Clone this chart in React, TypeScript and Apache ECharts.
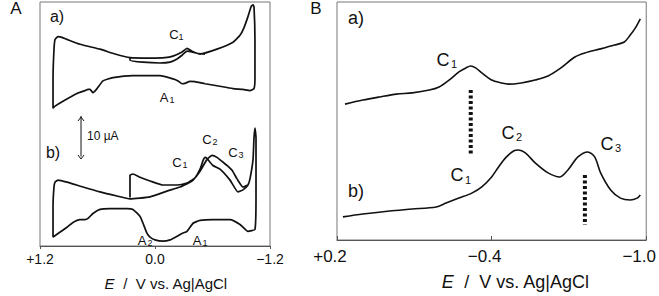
import React, { useEffect, useRef } from "react";
import * as echarts from "echarts";

// Panel A (cyclic voltammograms): x = E / V, y = current / µA
const AX_TICKS = [1.2, 0, -1.2];
const BX_TICKS = [0.2, -0.4, -1.0];

const cvA_a: number[][] = [
  [0.261, 46.5], [0.261, 45.7], [0.125, 45.2], [-0.052, 45.0], [-0.157, 45.2], [-0.23, 46.0],
  [-0.282, 46.9], [-0.334, 47.9], [-0.386, 47.7], [-0.438, 47.4], [-0.47, 47.2], [-0.647, 48.4],
  [-0.814, 50.1], [-0.887, 51.8], [-0.929, 53.7], [-0.97, 56.4], [-1.002, 58.8], [-1.023, 59.3],
  [-1.033, 58.8], [-1.043, 50.8], [-1.043, 41.1], [-1.033, 38.7], [-0.991, 38.2], [-0.918, 38.5],
  [-0.814, 38.7], [-0.647, 39.4], [-0.522, 39.9], [-0.417, 40.4], [-0.365, 40.5], [-0.313, 40.0],
  [-0.282, 39.9], [-0.24, 40.6], [-0.188, 41.1], [-0.052, 41.9], [0.23, 41.9], [0.438, 41.4],
  [0.543, 40.6], [0.605, 38.7], [0.647, 37.7], [0.678, 38.5], [0.699, 38.5], [0.73, 38.2],
  [0.814, 37.5], [0.96, 35.6], [1.043, 34.4], [1.064, 33.9], [1.064, 41.1], [1.054, 48.4],
  [1.043, 50.8], [1.012, 51.5], [0.97, 51.3], [0.918, 50.8], [0.783, 49.6], [0.574, 48.4],
  [0.417, 47.2], [0.261, 46.3], [0.052, 46.2], [-0.104, 46.3], [-0.188, 46.7], [-0.282, 47.7],
  [-0.334, 48.6], [-0.386, 47.9], [-0.438, 47.4], [-0.522, 47.2],
];

const cvA_b: number[][] = [
  [0.261, 11.9], [0.261, 17.4], [0.23, 17.7], [0.157, 16.9], [0.052, 16.0], [-0.083, 15.0],
  [-0.23, 15.0], [-0.334, 15.5], [-0.386, 16.2], [-0.417, 16.7], [-0.47, 18.9], [-0.501, 21.0],
  [-0.522, 21.8], [-0.543, 21.5], [-0.605, 19.8], [-0.678, 18.9], [-0.783, 16.2], [-0.866, 13.3],
  [-0.918, 13.8], [-0.97, 15.0], [-0.991, 16.5], [-1.023, 21.3], [-1.033, 26.6], [-1.043, 29.0],
  [-1.054, 26.6], [-1.054, 12.1], [-1.043, 4.1], [-0.97, 3.6], [-0.887, 5.3], [-0.783, 6.5],
  [-0.605, 6.5], [-0.47, 6.3], [-0.397, 5.6], [-0.334, 3.6], [-0.282, 3.1], [-0.23, 2.4],
  [-0.157, 1.5], [-0.083, 1.2], [0.0, 1.5], [0.052, 2.2], [0.083, 3.1], [0.125, 5.6],
  [0.157, 7.3], [0.23, 9.0], [0.292, 9.2], [0.47, 9.2], [0.574, 9.0], [0.647, 8.0],
  [0.699, 6.8], [0.73, 6.5], [0.783, 6.5], [0.856, 5.8], [0.918, 4.6], [1.023, 2.9],
  [1.064, 2.2], [1.064, 9.7], [1.054, 14.5], [1.043, 15.7], [1.012, 16.2], [0.918, 15.7],
  [0.751, 14.5], [0.574, 13.3], [0.397, 12.3], [0.261, 11.6], [0.052, 12.1], [-0.125, 13.5],
  [-0.261, 14.5], [-0.365, 15.7], [-0.397, 16.2], [-0.47, 18.4], [-0.543, 21.3], [-0.595, 22.3],
  [-0.647, 21.8], [-0.71, 20.6], [-0.751, 19.8], [-0.804, 18.6], [-0.856, 16.5], [-0.918, 14.5],
  [-0.97, 15.0],
];

// 10 µA scale bar (in panel A units)
const scaleBar: number[][] = [[0.772, 22.0], [0.772, 32.0]];

// Panel B (differential pulse voltammograms): x = E / V, y = arbitrary current
const dpvB_a: number[][] = [
  [0.169, 57.1], [0.1, 58.8], [0.035, 60.1], [-0.031, 61.3], [-0.092, 61.8], [-0.158, 63.0],
  [-0.196, 64.3], [-0.235, 67.2], [-0.273, 70.6], [-0.3, 72.3], [-0.319, 73.1], [-0.338, 72.3],
  [-0.362, 70.2], [-0.4, 67.2], [-0.438, 66.0], [-0.465, 65.5], [-0.515, 66.0], [-0.569, 67.2],
  [-0.619, 68.9], [-0.669, 72.3], [-0.723, 76.9], [-0.762, 78.6], [-0.823, 80.3], [-0.877, 81.9],
  [-0.915, 83.2], [-0.938, 86.1], [-0.958, 89.1], [-0.977, 92.9],
];

const dpvB_b: number[][] = [
  [0.177, 9.7], [0.1, 10.9], [-0.004, 12.2], [-0.092, 13.0], [-0.185, 13.9], [-0.223, 15.5],
  [-0.273, 17.6], [-0.323, 19.7], [-0.362, 22.3], [-0.4, 26.5], [-0.427, 30.7], [-0.454, 34.5],
  [-0.485, 37.4], [-0.504, 37.8], [-0.531, 36.6], [-0.569, 32.4], [-0.619, 28.2], [-0.665, 26.5],
  [-0.696, 29.4], [-0.735, 34.9], [-0.773, 37.0], [-0.8, 34.9], [-0.823, 28.2], [-0.862, 21.0],
  [-0.9, 17.6], [-0.938, 16.8], [-0.965, 17.6], [-0.977, 18.9],
];

const markerB_a: number[][] = [[-0.319, 63.0], [-0.319, 35.7]];
const markerB_b: number[][] = [[-0.762, 27.3], [-0.762, 6.3]];

const FONT = "Liberation Sans";
const INK = "#111";

const fmt = (v: number) =>
  v > 0 ? "+" + v.toFixed(1) : v < 0 ? "\u2212" + Math.abs(v).toFixed(1) : v.toFixed(1);

function txt(x: number, y: number, text: string, size: number, align = "center") {
  return {
    type: "text",
    x,
    y,
    style: { text, fontSize: size, fontFamily: FONT, fill: INK, align, verticalAlign: "middle" },
  };
}

function label(x: number, y: number, main: string, sub: string, size: number, subSize: number, sx: number, sy: number) {
  return [txt(x, y, main, size), txt(x + sx, y + sy, sub, subSize)];
}

export default function App() {
  const ref = useRef<HTMLDivElement>(null);
  useEffect(() => {
    document.body.style.margin = "0";
    const chart = echarts.init(ref.current!, null, { renderer: "svg" });
    const lineSeries = (data: number[][], idx: number, width = 1.6, smooth = 0.2) => ({
      type: "line",
      data,
      xAxisIndex: idx,
      yAxisIndex: idx,
      showSymbol: false,
      symbol: "none",
      smooth,
      clip: false,
      lineStyle: { color: INK, width },
      silent: true,
    });
    const marker = (data: number[][]) => ({
      type: "line",
      data,
      xAxisIndex: 1,
      yAxisIndex: 1,
      showSymbol: false,
      symbol: "none",
      clip: false,
      lineStyle: { color: INK, width: 4, type: [3, 2.5], cap: "butt" },
      silent: true,
    });
    const xAxisCommon = {
      type: "value",
      inverse: true,
      splitLine: { show: false },
      axisLine: { lineStyle: { color: "#555", width: 1 } },
      nameLocation: "middle",
    };
    chart.setOption({
      animation: false,
      backgroundColor: "#fff",
      grid: [
        { left: 40, top: 2, width: 230, height: 248, show: true, borderColor: "#777", borderWidth: 1 },
        { left: 337, top: 2, width: 312, height: 238, show: true, borderColor: "#777", borderWidth: 1 },
      ],
      xAxis: [
        {
          ...xAxisCommon,
          gridIndex: 0,
          min: -1.2,
          max: 1.2,
          axisTick: { length: 3, customValues: AX_TICKS, lineStyle: { color: "#555" } },
          axisLabel: {
            customValues: AX_TICKS,
            formatter: fmt,
            fontFamily: FONT,
            fontSize: 14,
            color: INK,
            margin: 6,
          },
          name: "{i|E}  /  V vs. Ag|AgCl",
          nameGap: 30,
          nameTextStyle: {
            fontFamily: FONT,
            fontSize: 15,
            color: INK,
            padding: [0, 0, 0, 22],
            rich: { i: { fontStyle: "italic", fontFamily: FONT, fontSize: 15, color: INK } },
          },
        },
        {
          ...xAxisCommon,
          gridIndex: 1,
          min: -1.0,
          max: 0.2,
          axisTick: { length: 4, inside: true, customValues: BX_TICKS, lineStyle: { color: "#555" } },
          axisLabel: {
            customValues: BX_TICKS,
            formatter: fmt,
            fontFamily: FONT,
            fontSize: 17,
            color: INK,
            margin: 8,
            padding: [0, 14, 0, 0],
          },
          name: "{i|E}  /  V vs. Ag|AgCl",
          nameGap: 33,
          nameTextStyle: {
            fontFamily: FONT,
            fontSize: 18,
            color: INK,
            padding: [0, 0, 0, 48],
            rich: { i: { fontStyle: "italic", fontFamily: FONT, fontSize: 18, color: INK } },
          },
        },
      ],
      yAxis: [
        { type: "value", gridIndex: 0, min: 0, max: 60, show: false, splitLine: { show: false } },
        { type: "value", gridIndex: 1, min: 0, max: 100, show: false, splitLine: { show: false } },
      ],
      series: [
        lineSeries(cvA_a, 0, 1.7, 0.15),
        lineSeries(cvA_b, 0, 1.7, 0.15),
        lineSeries(dpvB_a, 1, 1.6, 0.3),
        lineSeries(dpvB_b, 1, 1.6, 0.3),
        marker(markerB_a),
        marker(markerB_b),
        {
          type: "line",
          data: scaleBar,
          xAxisIndex: 0,
          yAxisIndex: 0,
          showSymbol: false,
          symbol: "none",
          clip: false,
          lineStyle: { color: INK, width: 1 },
          silent: true,
        },
      ],
      graphic: [
        txt(16, 8, "A", 17),
        txt(316, 8, "B", 17),
        txt(57, 16, "a)", 16),
        txt(53, 152, "b)", 16),
        txt(356, 18, "a)", 18),
        txt(356, 191, "b)", 18),
        txt(87, 136, "10 \u00b5A", 12, "left"),
        { type: "polyline", shape: { points: [[78, 121], [81, 117], [84, 121]] }, style: { stroke: INK, fill: "none", lineWidth: 1 } },
        { type: "polyline", shape: { points: [[78, 155], [81, 159], [84, 155]] }, style: { stroke: INK, fill: "none", lineWidth: 1 } },
        ...label(174, 34, "C", "1", 13, 9, 7, 3),
        ...label(164, 97, "A", "1", 13, 9, 8, 3),
        ...label(177, 162, "C", "1", 13, 9, 8, 3),
        ...label(207, 139, "C", "2", 13, 9, 8, 3),
        ...label(233, 152, "C", "3", 13, 9, 8, 3),
        ...label(142, 240, "A", "2", 13, 9, 8, 3),
        ...label(197, 240, "A", "1", 13, 9, 8, 3),
        ...label(443, 60, "C", "1", 18, 11, 11, 4),
        ...label(457, 175, "C", "1", 18, 11, 11, 5),
        ...label(508, 133, "C", "2", 18, 11, 11, 4),
        ...label(607, 144, "C", "3", 18, 11, 11, 4),
      ],
    });
    return () => chart.dispose();
  }, []);
  return <div ref={ref} style={{ width: 659, height: 296 }} />;
}
